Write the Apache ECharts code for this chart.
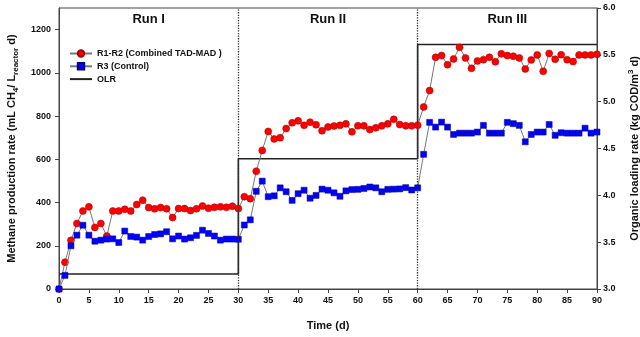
<!DOCTYPE html>
<html>
<head>
<meta charset="utf-8">
<script src="https://cdn.jsdelivr.net/npm/echarts@6.0.0/dist/echarts.min.js"></script>
<style>
  html, body { margin: 0; padding: 0; background: #fff; }
  #chart { width: 640px; height: 337px; }
</style>
</head>
<body>
<div id="chart"></div>
<script>
// daily readings, day 0 .. 90
const days = Array.from({ length: 91 }, (_, i) => i);
const combined = [
  0, 124, 225, 303, 361, 380, 285, 303, 245, 361,
  361, 369, 361, 391, 411, 377, 371, 377, 371, 331,
  372, 372, 363, 371, 384, 374, 378, 380, 378, 383,
  372, 427, 418, 545, 641, 729, 694, 700, 742, 769,
  778, 757, 772, 760, 732, 750, 754, 757, 764, 727,
  755, 755, 738, 746, 755, 764, 785, 761, 755, 755,
  758, 842, 918, 1072, 1080, 1038, 1064, 1118, 1069, 1021,
  1055, 1061, 1072, 1051, 1088, 1080, 1077, 1069, 1018, 1060,
  1083, 1007, 1090, 1063, 1084, 1061, 1052, 1083, 1083, 1083,
  1086
];
const control = [
  0, 63, 200, 249, 295, 249, 221, 226, 231, 232,
  215, 268, 243, 240, 226, 243, 252, 255, 265, 232,
  245, 231, 237, 248, 272, 257, 245, 226, 231, 231,
  230, 296, 320, 452, 499, 427, 431, 468, 450, 410,
  441, 457, 420, 433, 462, 457, 445, 429, 454, 460,
  461, 465, 472, 468, 450, 461, 462, 463, 469, 458,
  468, 623, 771, 749, 772, 749, 715, 721, 721, 721,
  726, 757, 721, 721, 721, 771, 765, 757, 681, 715,
  726, 726, 761, 711, 723, 721, 721, 721, 744, 721,
  726
];
// OLR steps (kg COD/m3 d)
const olrDays = [0, 30, 60, 90];
const olrValues = [3.16, 4.39, 5.61, 5.61];
const runNames = ['Run I', 'Run II', 'Run III'];
const runBounds = [0, 30, 60, 90];
const leftTicks = [0, 200, 400, 600, 800, 1000, 1200];

const chart = echarts.init(document.getElementById('chart'));
const font = 'Liberation Sans, Arial, sans-serif';

const option = {
  animation: false,
  textStyle: { fontFamily: font },
  grid: {
    left: 59, right: 43, top: 8, bottom: 48, outerBoundsMode: 'none',
    show: true, borderColor: '#444', borderWidth: 1
  },
  legend: {
    left: 64, top: 44, orient: 'vertical',
    itemWidth: 22, itemHeight: 8, itemGap: 3.8,
    textStyle: { fontSize: 9, fontWeight: 'bold', color: '#111', fontFamily: font },
    data: ['R1-R2 (Combined TAD-MAD )', 'R3 (Control)', { name: 'OLR', itemStyle: { opacity: 0 } }]
  },
  xAxis: {
    type: 'value', min: 0, max: 90, interval: 5,
    name: 'Time (d)', nameLocation: 'middle', nameGap: 31,
    nameTextStyle: { fontSize: 11, fontWeight: 'bold', color: '#111' },
    axisLine: { lineStyle: { color: '#444' } },
    axisTick: { length: 4, lineStyle: { color: '#444' } },
    axisLabel: { fontSize: 9, fontWeight: 'bold', color: '#111', margin: 7 },
    splitLine: { show: false }
  },
  yAxis: [{
    type: 'value', min: 0, max: 1300, interval: 200,
    name: '{a|Methane production rate (mL CH}{s|4}{a|/ L}{s|reactor}{a| d)}',
    nameLocation: 'middle', nameGap: 39, nameRotate: 90,
    nameTextStyle: {
      rich: {
        a: { fontSize: 11, fontWeight: 'bold', color: '#111', lineHeight: 16, fontFamily: font },
        s: { fontSize: 8, fontWeight: 'bold', color: '#111', lineHeight: 10, verticalAlign: 'bottom', fontFamily: font }
      }
    },
    axisLine: { show: true, lineStyle: { color: '#444' } },
    axisTick: { show: true, length: 4, customValues: leftTicks, lineStyle: { color: '#444' } },
    axisLabel: {
      fontSize: 9, fontWeight: 'bold', color: '#111', margin: 8,
      customValues: leftTicks, formatter: v => String(v)
    },
    splitLine: { show: false }
  }, {
    type: 'value', min: 3, max: 6, interval: 0.5, position: 'right',
    name: '{a|Organic loading rate (kg COD/m}{p|3}{a| d)}',
    nameLocation: 'middle', nameGap: 30, nameRotate: 90,
    nameTextStyle: {
      rich: {
        a: { fontSize: 11, fontWeight: 'bold', color: '#111', lineHeight: 16, fontFamily: font },
        p: { fontSize: 8, fontWeight: 'bold', color: '#111', lineHeight: 10, verticalAlign: 'top', fontFamily: font }
      }
    },
    axisLine: { show: true, lineStyle: { color: '#444' } },
    axisTick: { show: true, length: 4, lineStyle: { color: '#444' } },
    axisLabel: { fontSize: 9, fontWeight: 'bold', color: '#111', margin: 6, formatter: v => v.toFixed(1) },
    splitLine: { show: false }
  }],
  series: [{
    name: 'OLR', type: 'line', yAxisIndex: 1, step: 'end', symbol: 'none',
    data: olrDays.map((d, i) => [d, olrValues[i]]),
    lineStyle: { color: '#222', width: 1.6 },
    itemStyle: { color: '#222' },
    z: 1,
    markLine: {
      silent: true, symbol: 'none', label: { show: false },
      lineStyle: { type: 'dotted', color: '#333', width: 1.3 },
      data: [{ xAxis: runBounds[1] }, { xAxis: runBounds[2] }]
    },
    markArea: {
      silent: true,
      itemStyle: { color: 'rgba(0,0,0,0)' },
      label: { show: true, position: 'insideTop', distance: 5, fontSize: 13, fontWeight: 'bold', color: '#111', fontFamily: font },
      data: runNames.map((n, i) => [{ name: n, xAxis: runBounds[i] }, { xAxis: runBounds[i + 1] }])
    }
  }, {
    name: 'R3 (Control)', type: 'line', symbol: 'rect', symbolSize: 6,
    data: days.map((d, i) => [d, control[i]]),
    lineStyle: { color: '#777', width: 1 },
    itemStyle: { color: '#0000ff', borderColor: '#00008a', borderWidth: 0.5 },
    z: 3
  }, {
    name: 'R1-R2 (Combined TAD-MAD )', type: 'line', symbol: 'circle', symbolSize: 7,
    data: days.map((d, i) => [d, combined[i]]),
    lineStyle: { color: '#777', width: 1 },
    itemStyle: { color: '#ff0000', borderColor: '#a00000', borderWidth: 0.5 },
    z: 2
  }]
};

chart.setOption(option);
</script>
</body>
</html>
